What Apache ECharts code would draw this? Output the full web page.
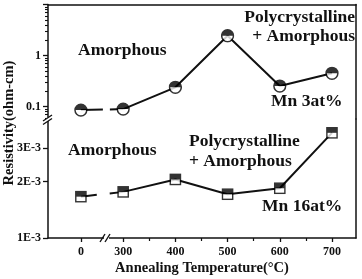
<!DOCTYPE html>
<html>
<head>
<meta charset="utf-8">
<script src="https://cdn.jsdelivr.net/npm/echarts@6/dist/echarts.min.js"></script>
<style>
  html, body { margin: 0; padding: 0; background: #fff; }
  #chart { width: 362px; height: 279px; }
</style>
</head>
<body>
<div id="chart"></div>
<script>
const temps = [0, 300, 400, 500, 600, 700]
const xTickLabels = ['0', '300', '400', '500', '600', '700']
const xMinorTicks = [350, 450, 550, 650]
const mn3 = [0.085, 0.089, 0.238, 2.44, 0.252, 0.448]
const mn16 = [1.66e-3, 1.76e-3, 2.05e-3, 1.71e-3, 1.84e-3, 3.63e-3]
const upperTicks = [0.1, 1, 10]
const upperLabels = [0.1, 1]
const upperMinor = [0.06, 0.07, 0.08, 0.09, 0.2, 0.3, 0.4, 0.5, 0.6, 0.7, 0.8, 0.9, 2, 3, 4, 5, 6, 7, 8, 9]
const lowerTicks = [1e-3, 2e-3, 3e-3]

// 0 °C is drawn left of the axis break
const ZERO_POS = 219
const xpos = (t) => (t === 0 ? ZERO_POS : t)
const xTickPos = temps.map(xpos)

const FONT = 'Liberation Serif'
const INK = '#111'
const pts = (ys) => temps.map((t, i) => [xpos(t), ys[i]])

const svg = (body) =>
  'image://data:image/svg+xml;charset=utf-8,' +
  encodeURIComponent("<svg xmlns='http://www.w3.org/2000/svg' width='14' height='14' viewBox='0 0 14 14'>" + body + '</svg>')
const halfCircle = svg(
  "<circle cx='7' cy='7' r='5.9' fill='white' stroke='black' stroke-width='1.5'/><path d='M1.1 7 A5.9 5.9 0 0 1 12.9 7 Z' fill='black'/>"
)
const halfSquare = svg(
  "<rect x='1.5' y='1.5' width='11' height='11' fill='white' stroke='black' stroke-width='1.5'/><rect x='1.5' y='1.5' width='11' height='5.5' fill='black'/>"
)

const axisLine = { show: true, lineStyle: { color: INK, width: 1.5 } }
const xBase = { type: 'value', min: 156, max: 746, splitLine: { show: false } }
const label = { color: INK, fontFamily: FONT, fontWeight: 'bold', fontSize: 12 }

const text = (str, x, y, align) => ({
  type: 'text',
  x, y,
  style: { text: str, fill: INK, fontFamily: FONT, fontWeight: 'bold', fontSize: 17.5, textAlign: align || 'left', textVerticalAlign: 'middle' },
})
const slash = (x1, y1, x2, y2) => ({
  type: 'line', shape: { x1, y1, x2, y2 }, style: { stroke: INK, lineWidth: 1.4 }, z: 100,
})

const chart = echarts.init(document.getElementById('chart'))
chart.setOption({
  animation: false,
  grid: [
    { left: 48, right: 6, top: 4.5, height: 114.5 },
    { left: 48, right: 6, top: 119, height: 119 },
  ],
  xAxis: [
    { ...xBase, gridIndex: 0, position: 'top', axisLine, axisTick: { show: false }, axisLabel: { show: false } },
    {
      ...xBase, gridIndex: 1, position: 'bottom', axisLine,
      axisTick: { show: true, customValues: xTickPos, length: 4, lineStyle: { color: INK, width: 1.3 } },
      axisLabel: { ...label, margin: 8, customValues: xTickPos, formatter: (v) => xTickLabels[xTickPos.indexOf(v)] },
      name: 'Annealing Temperature(°C)', nameLocation: 'middle', nameGap: 23,
      nameTextStyle: { color: INK, fontFamily: FONT, fontWeight: 'bold', fontSize: 14.5 },
    },
    {
      ...xBase, gridIndex: 1, position: 'bottom', axisLine: { show: false },
      axisTick: { show: true, customValues: xMinorTicks, length: 3, lineStyle: { color: INK, width: 1.2 } },
      axisLabel: { show: false },
    },
  ],
  yAxis: [
    {
      type: 'log', gridIndex: 0, min: 0.0569, max: 10, position: 'left', axisLine, splitLine: { show: false },
      axisTick: { show: true, customValues: upperTicks, length: 5, lineStyle: { color: INK, width: 1.3 } },
      axisLabel: { ...label, margin: 7, customValues: upperLabels, formatter: (v) => String(v) },
    },
    {
      type: 'log', gridIndex: 0, min: 0.0569, max: 10, position: 'left', axisLine: { show: false }, splitLine: { show: false },
      axisTick: { show: true, customValues: upperMinor, length: 3, lineStyle: { color: INK, width: 1.1 } },
      axisLabel: { show: false },
    },
    {
      type: 'log', gridIndex: 0, min: 0.0569, max: 10, position: 'right', axisLine, splitLine: { show: false },
      axisTick: { show: false }, axisLabel: { show: false },
    },
    {
      type: 'log', gridIndex: 1, min: 1e-3, max: 4.3e-3, position: 'left', axisLine, splitLine: { show: false },
      axisTick: { show: true, customValues: lowerTicks, length: 5, lineStyle: { color: INK, width: 1.3 } },
      axisLabel: { ...label, margin: 7, customValues: lowerTicks, formatter: (v) => Math.round(v * 1000) + 'E-3' },
    },
    {
      type: 'log', gridIndex: 1, min: 1e-3, max: 4.3e-3, position: 'right', axisLine, splitLine: { show: false },
      axisTick: { show: false }, axisLabel: { show: false },
    },
  ],
  series: [
    // Mn 3at%
    { type: 'line', xAxisIndex: 0, yAxisIndex: 0, data: pts(mn3).slice(0, 2), showSymbol: false,
      lineStyle: { color: INK, width: 2, type: [22, 7, 60] } },
    { type: 'line', xAxisIndex: 0, yAxisIndex: 0, data: pts(mn3).slice(1), showSymbol: false,
      lineStyle: { color: INK, width: 2 } },
    { type: 'scatter', xAxisIndex: 0, yAxisIndex: 0, data: pts(mn3), symbol: halfCircle, symbolSize: 14, z: 5 },
    // Mn 16at%
    { type: 'line', xAxisIndex: 1, yAxisIndex: 3, data: pts(mn16).slice(0, 2), showSymbol: false,
      lineStyle: { color: INK, width: 2, type: [16, 13, 60] } },
    { type: 'line', xAxisIndex: 1, yAxisIndex: 3, data: pts(mn16).slice(1), showSymbol: false,
      lineStyle: { color: INK, width: 2 } },
    { type: 'scatter', xAxisIndex: 1, yAxisIndex: 3, data: pts(mn16), symbol: halfSquare, symbolSize: 13, z: 5 },
  ],
  graphic: [
    text('Amorphous', 78, 50),
    text('Polycrystalline', 355, 17, 'right'),
    text('+ Amorphous', 355, 36, 'right'),
    text('Mn 3at%', 271, 101),
    text('Amorphous', 68, 150),
    text('Polycrystalline', 189, 141),
    text('+ Amorphous', 189, 161),
    text('Mn 16at%', 262, 206),
    {
      type: 'text', x: 9, y: 123, rotation: Math.PI / 2,
      style: { text: 'Resistivity(ohm-cm)', fill: INK, fontFamily: FONT, fontWeight: 'bold', fontSize: 14.5, textAlign: 'center', textVerticalAlign: 'middle' },
    },
    // axis breaks
    { type: 'rect', shape: { x: 46, y: 117.5, width: 4, height: 3.5 }, style: { fill: '#fff' }, z: 99 },
    slash(43, 121, 52, 115),
    slash(43, 124.5, 52, 118.5),
    { type: 'rect', shape: { x: 104, y: 236, width: 5, height: 4 }, style: { fill: '#fff' }, z: 99 },
    slash(100, 242, 105, 234),
    slash(105, 242, 110, 234),
  ],
})
</script>
</body>
</html>
